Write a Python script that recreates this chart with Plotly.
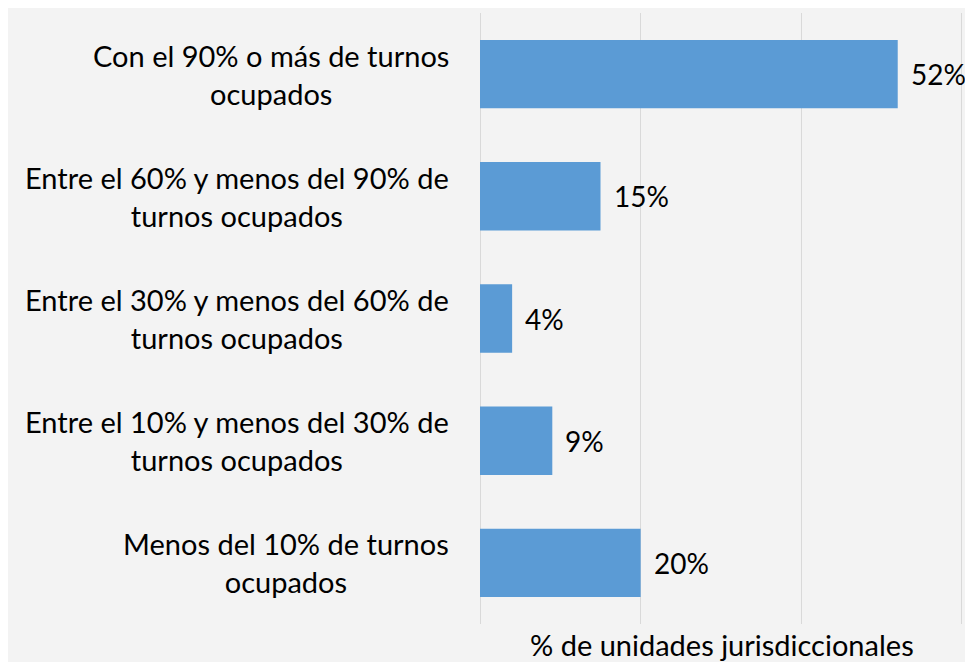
import plotly.graph_objects as go

categorias = [
    "Con el 90% o más de turnos<br>ocupados",
    "Entre el 60% y menos del 90% de<br>turnos ocupados",
    "Entre el 30% y menos del 60% de<br>turnos ocupados",
    "Entre el 10% y menos del 30% de<br>turnos ocupados",
    "Menos del 10% de turnos<br>ocupados",
]
porcentajes = [52, 15, 4, 9, 20]
etiquetas = ["52%", "15%", "4%", "9%", "20%"]
titulo_x = "% de unidades jurisdiccionales"

FONT = "Lato"
SIZE = 29
BG = "#f3f3f3"

fig = go.Figure()

fig.add_trace(go.Bar(
    x=porcentajes,
    y=categorias,
    orientation="h",
    marker=dict(color="#5b9bd5", line=dict(width=0)),
    hoverinfo="skip",
))

# category labels, lines centred like the original
for cat in categorias:
    fig.add_annotation(
        x=0, y=cat, xref="paper", yref="y",
        text=cat, showarrow=False,
        xanchor="right", align="center", xshift=-29,
        font=dict(family=FONT, size=SIZE, color="#000000"),
    )

# value labels
for val, lab, cat in zip(porcentajes, etiquetas, categorias):
    fig.add_annotation(
        x=val, y=cat, xref="x", yref="y",
        text=lab, showarrow=False,
        xanchor="left", xshift=11,
        font=dict(family=FONT, size=28, color="#000000"),
    )

fig.add_annotation(
    x=0.5, y=0, xref="paper", yref="paper",
    text=titulo_x, showarrow=False,
    xanchor="center", yanchor="top", yshift=-1,
    font=dict(family=FONT, size=SIZE, color="#000000"),
)

# page body keeps an 8px margin, so the figure is shifted by 8px
fig.update_layout(
    width=957, height=654,
    margin=dict(l=472, r=1, t=5, b=38),
    paper_bgcolor=BG,
    plot_bgcolor=BG,
    bargap=0.44,
    showlegend=False,
    xaxis=dict(
        range=[0, 60.25], dtick=20, showticklabels=False,
        showgrid=True, gridcolor="#d9d9d9", gridwidth=1,
        zeroline=True, zerolinecolor="#d9d9d9", zerolinewidth=1,
        showline=False,
    ),
    yaxis=dict(
        autorange="reversed", showticklabels=False,
        showgrid=False, zeroline=False, showline=False,
    ),
)

fig.write_html("out.html")
